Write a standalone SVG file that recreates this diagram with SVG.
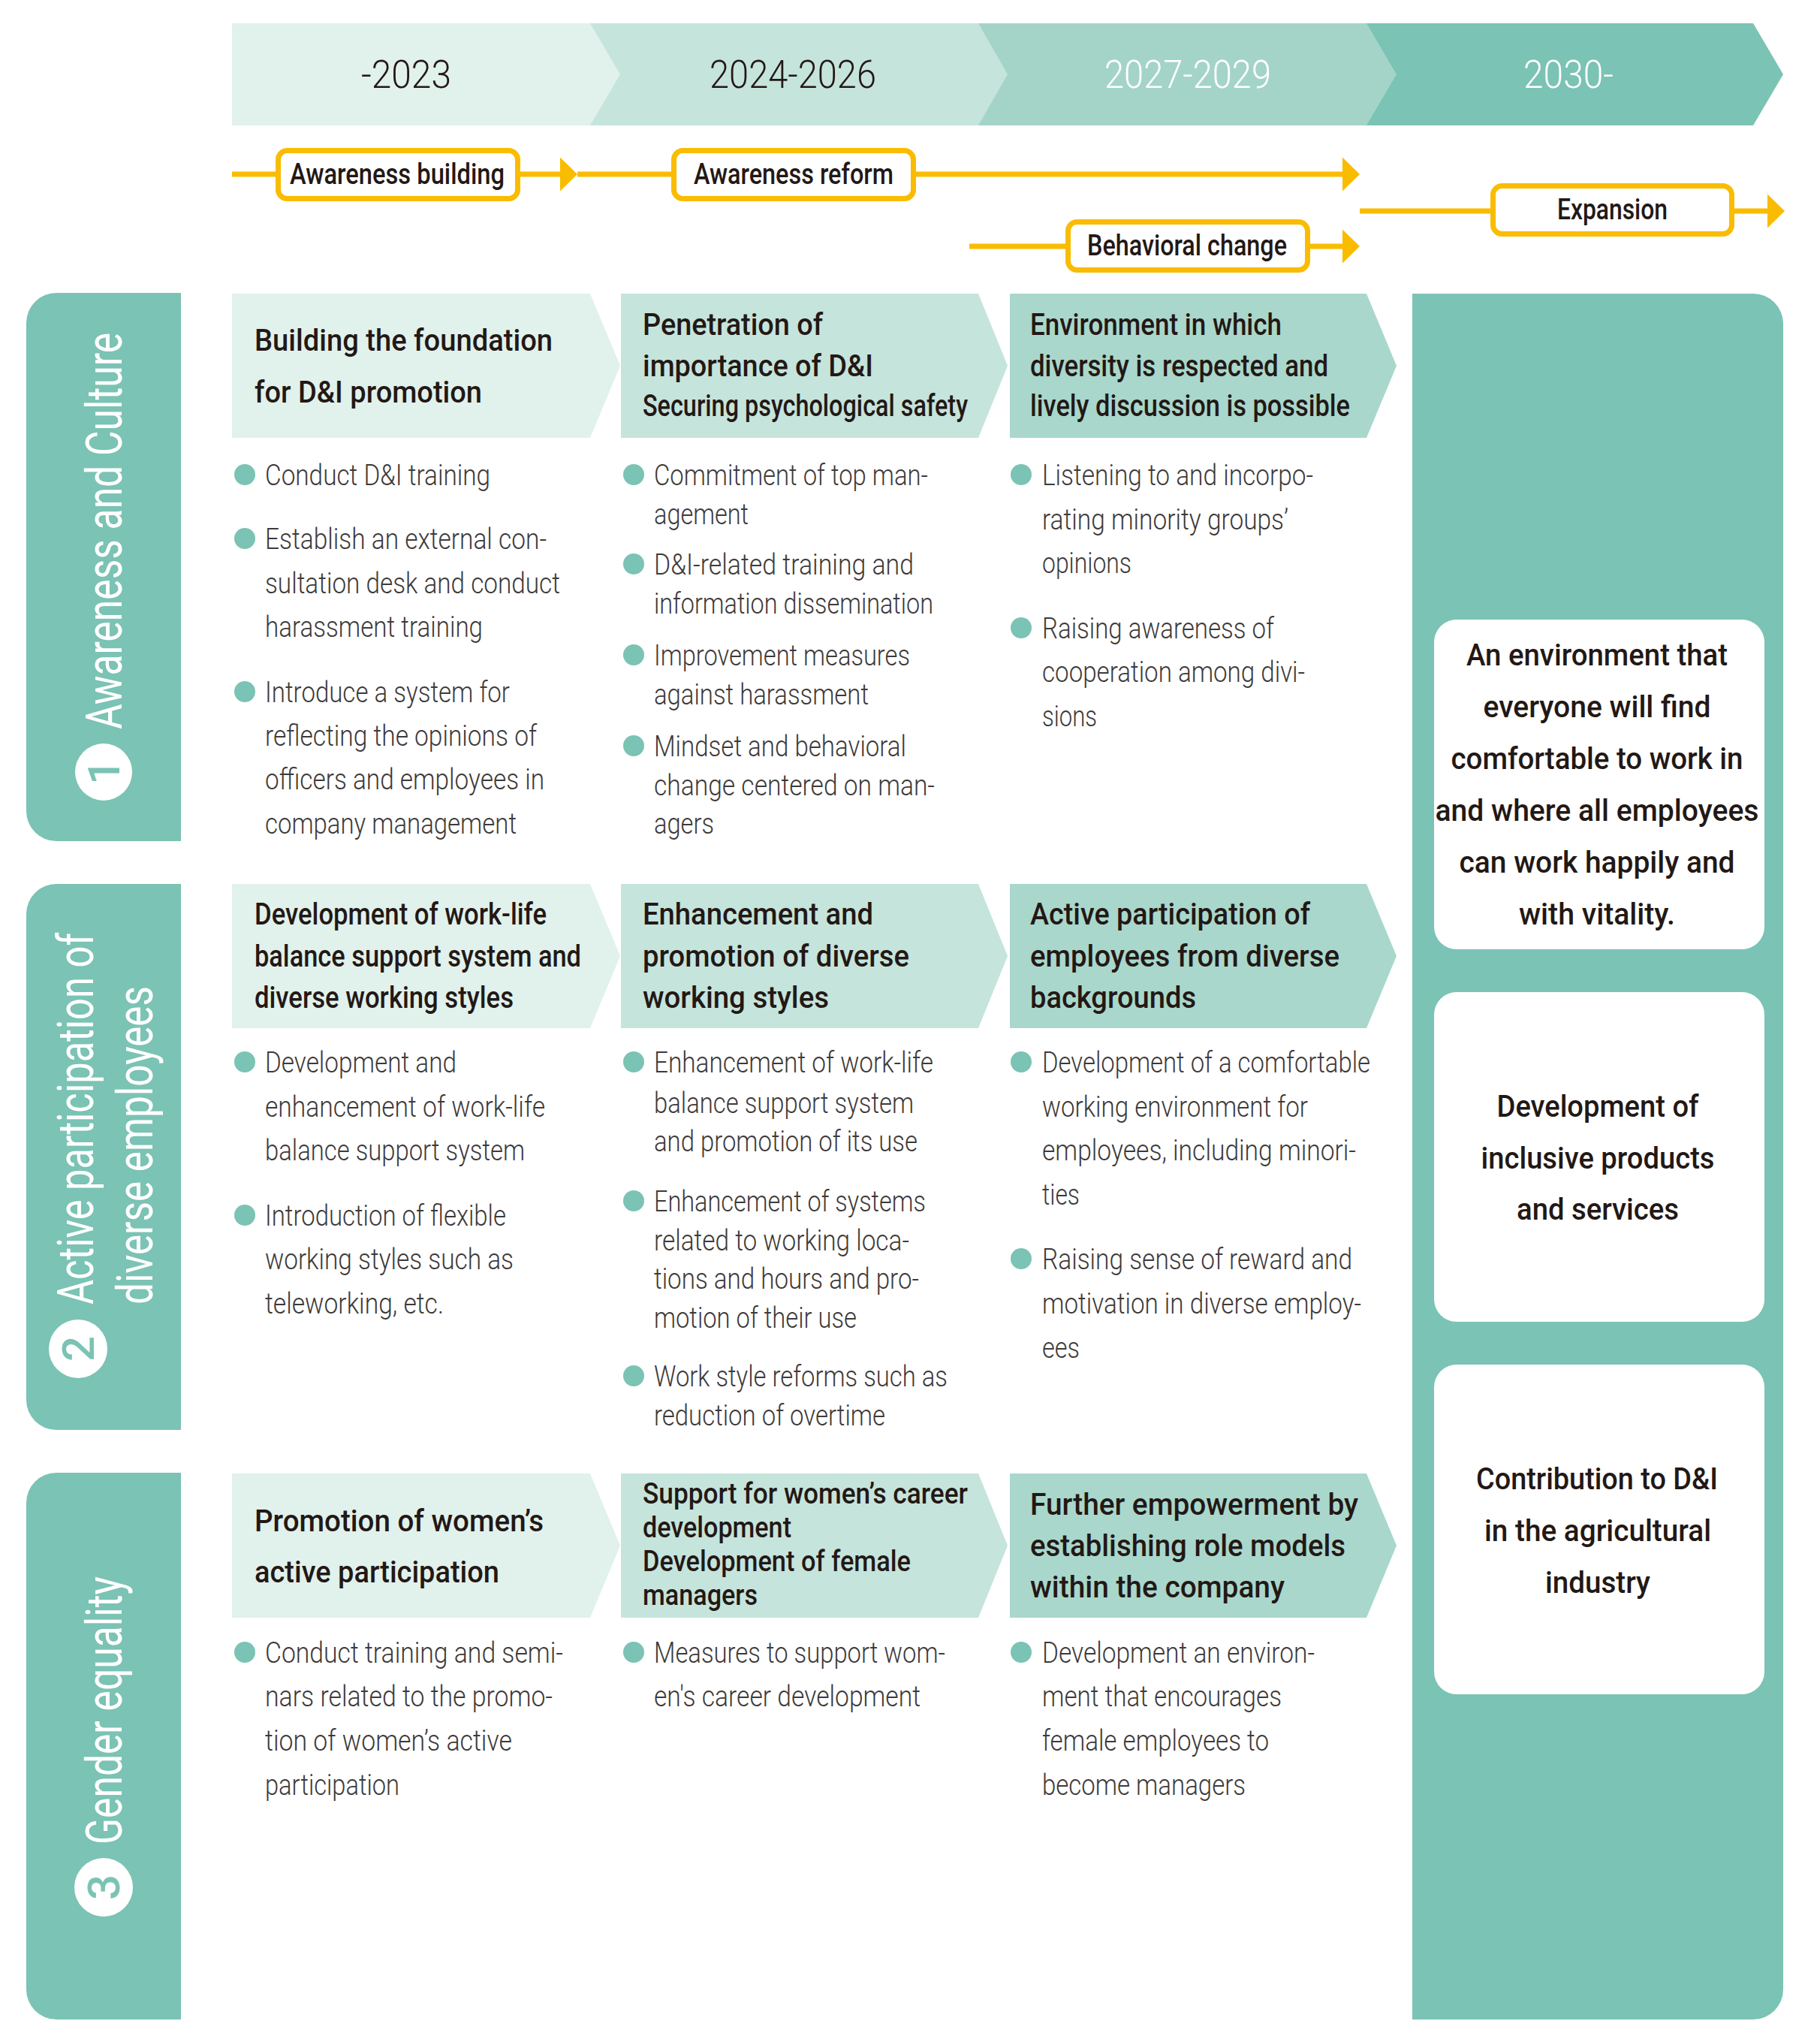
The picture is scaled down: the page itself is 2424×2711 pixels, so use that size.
<svg xmlns="http://www.w3.org/2000/svg" width="2424" height="2711" viewBox="0 0 2424 2711">
<defs>
<style>
text{font-family:Roboto,'Liberation Sans',sans-serif}
.h{font-weight:500;font-size:40px;fill:#231815}
.h2{font-weight:500;font-size:38px;fill:#231815}
.b{font-weight:300;font-size:39px;fill:#3e3a39}
.yr{font-weight:300;font-size:52px}
.lbl{font-weight:500;font-size:38px;fill:#231815}
.side{font-weight:400;font-size:66px;fill:#fff}
.num{font-weight:500;font-size:60px;fill:#7bc3b4}
.goal{font-weight:500;font-size:40px;fill:#231815;text-anchor:middle}
.dot{fill:#7bc3b4}
.c1{fill:#e1f1ec}.c2{fill:#c5e4dc}.c3{fill:#a9d7cc}.c3h{fill:#a4d4c8}.c4{fill:#7bc3b4}
.ybox{fill:#fff;stroke:#f9bc00;stroke-width:7}
.yline{stroke:#f9bc00;stroke-width:7;fill:none}
</style>
<marker id="ah" markerUnits="userSpaceOnUse" viewBox="0 0 23 45" refX="0" refY="22.5" markerWidth="23" markerHeight="45" orient="auto"><path d="M0,0 L23,22.5 L0,45 Z" fill="#f9bc00"/></marker>
</defs>
<rect width="2424" height="2711" fill="#fff"/>

<!-- header band -->
<g id="period-2030">
<path class="c4" d="M1820,31 H2335 L2375,99 L2335,167 H1820 Z"/>
<text class="yr" x="2029" y="117" fill="#fff" textLength="120" lengthAdjust="spacingAndGlyphs">2030-</text>
</g>
<g id="period-2027">
<path class="c3h" d="M1303,31 H1820 L1860,99 L1820,167 H1303 Z"/>
<text class="yr" x="1471" y="117" fill="#fff" textLength="222" lengthAdjust="spacingAndGlyphs">2027-2029</text>
</g>
<g id="period-2024">
<path class="c2" d="M786,31 H1303 L1342,99 L1303,167 H786 Z"/>
<text class="yr" x="945" y="117" fill="#231815" textLength="222" lengthAdjust="spacingAndGlyphs">2024-2026</text>
</g>
<g id="period-2023">
<path class="c1" d="M309,31 H786 L826,99 L786,167 H309 Z"/>
<text class="yr" x="481" y="117" fill="#231815" textLength="120" lengthAdjust="spacingAndGlyphs">-2023</text>
</g>

<!-- connectors -->
<g id="connectors">
<path class="yline" d="M309,232 H746" marker-end="url(#ah)"/>
<path class="yline" d="M769,232 H1788" marker-end="url(#ah)"/>
<path class="yline" d="M1291,328 H1788" marker-end="url(#ah)"/>
<path class="yline" d="M1811,281 H2354" marker-end="url(#ah)"/>
</g>

<g id="awareness-building">
<rect class="ybox" x="370.5" y="200.5" width="319" height="64" rx="12"/>
<text class="lbl" x="386" y="245" textLength="286" lengthAdjust="spacingAndGlyphs">Awareness building</text>
</g>
<g id="awareness-reform">
<rect class="ybox" x="897.5" y="200.5" width="319" height="64" rx="12"/>
<text class="lbl" x="924" y="245" textLength="266" lengthAdjust="spacingAndGlyphs">Awareness reform</text>
</g>
<g id="behavioral-change">
<rect class="ybox" x="1422.5" y="295.5" width="319" height="64" rx="12"/>
<text class="lbl" x="1448" y="340" textLength="266" lengthAdjust="spacingAndGlyphs">Behavioral change</text>
</g>
<g id="expansion">
<rect class="ybox" x="1988.5" y="247.5" width="318" height="64" rx="12"/>
<text class="lbl" x="2074" y="292" textLength="147" lengthAdjust="spacingAndGlyphs">Expansion</text>
</g>

<!-- side bars -->
<g id="cat-awareness">
<path class="c4" d="M75,390 H241 V1120 H75 A40,40 0 0 1 35,1080 V430 A40,40 0 0 1 75,390 Z"/>
<text class="side" transform="translate(162,971) rotate(-90)" textLength="528" lengthAdjust="spacingAndGlyphs">Awareness and Culture</text>
<circle cx="138" cy="1028" r="38" fill="#fff"/>
<text class="num" transform="translate(159,1028) rotate(-90)" text-anchor="middle">1</text>
</g>
<g id="cat-participation">
<path class="c4" d="M75,1177 H241 V1904 H75 A40,40 0 0 1 35,1864 V1217 A40,40 0 0 1 75,1177 Z"/>
<text class="side" transform="translate(124,1737) rotate(-90)" textLength="495" lengthAdjust="spacingAndGlyphs">Active participation of</text>
<text class="side" transform="translate(203,1737) rotate(-90)" textLength="424" lengthAdjust="spacingAndGlyphs">diverse employees</text>
<circle cx="104" cy="1796" r="39" fill="#fff"/>
<text class="num" transform="translate(125,1796) rotate(-90)" text-anchor="middle">2</text>
</g>
<g id="cat-gender">
<path class="c4" d="M75,1961 H241 V2689 H75 A40,40 0 0 1 35,2649 V2001 A40,40 0 0 1 75,1961 Z"/>
<text class="side" transform="translate(162,2456) rotate(-90)" textLength="357" lengthAdjust="spacingAndGlyphs">Gender equality</text>
<circle cx="138" cy="2513" r="39" fill="#fff"/>
<text class="num" transform="translate(159,2513) rotate(-90)" text-anchor="middle">3</text>
</g>

<!-- goal panel -->
<g id="goal-panel">
<path class="c4" d="M1881,391 H2335 A40,40 0 0 1 2375,431 V2649 A40,40 0 0 1 2335,2689 H1881 Z"/>
</g>
<g id="goal-environment">
<rect x="1910" y="825" width="440" height="439" rx="30" fill="#fff"/>
<text class="goal" x="2127" y="886" textLength="348" lengthAdjust="spacingAndGlyphs">An environment that</text>
<text class="goal" x="2127" y="955" textLength="303" lengthAdjust="spacingAndGlyphs">everyone will find</text>
<text class="goal" x="2127" y="1024" textLength="389" lengthAdjust="spacingAndGlyphs">comfortable to work in</text>
<text class="goal" x="2127" y="1093" textLength="431" lengthAdjust="spacingAndGlyphs">and where all employees</text>
<text class="goal" x="2127" y="1162" textLength="367" lengthAdjust="spacingAndGlyphs">can work happily and</text>
<text class="goal" x="2127" y="1231" textLength="208" lengthAdjust="spacingAndGlyphs">with vitality.</text>
</g>
<g id="goal-products">
<rect x="1910" y="1321" width="440" height="439" rx="30" fill="#fff"/>
<text class="goal" x="2128" y="1487" textLength="269" lengthAdjust="spacingAndGlyphs">Development of</text>
<text class="goal" x="2128" y="1556" textLength="311" lengthAdjust="spacingAndGlyphs">inclusive products</text>
<text class="goal" x="2128" y="1624" textLength="216" lengthAdjust="spacingAndGlyphs">and services</text>
</g>
<g id="goal-agri">
<rect x="1910" y="1817" width="440" height="439" rx="30" fill="#fff"/>
<text class="goal" x="2127" y="1983" textLength="322" lengthAdjust="spacingAndGlyphs">Contribution to D&amp;I</text>
<text class="goal" x="2128" y="2052" textLength="302" lengthAdjust="spacingAndGlyphs">in the agricultural</text>
<text class="goal" x="2128" y="2121" textLength="140" lengthAdjust="spacingAndGlyphs">industry</text>
</g>

<!-- Row 1 -->
<g id="r1c1">
<path class="c1" d="M309,391 H786 L826,487 L786,583 H309 Z"/>
<text class="h" x="339" y="467" textLength="397" lengthAdjust="spacingAndGlyphs">Building the foundation</text>
<text class="h" x="339" y="536" textLength="303" lengthAdjust="spacingAndGlyphs">for D&amp;I promotion</text>
<circle class="dot" cx="326" cy="632" r="14"/>
<text class="b" x="353" y="646" textLength="300" lengthAdjust="spacingAndGlyphs">Conduct D&amp;I training</text>
<circle class="dot" cx="326" cy="717" r="14"/>
<text class="b" x="353" y="731" textLength="375" lengthAdjust="spacingAndGlyphs">Establish an external con-</text>
<text class="b" x="353" y="790" textLength="393" lengthAdjust="spacingAndGlyphs">sultation desk and conduct</text>
<text class="b" x="353" y="848" textLength="290" lengthAdjust="spacingAndGlyphs">harassment training</text>
<circle class="dot" cx="326" cy="921" r="14"/>
<text class="b" x="353" y="935" textLength="326" lengthAdjust="spacingAndGlyphs">Introduce a system for</text>
<text class="b" x="353" y="993" textLength="362" lengthAdjust="spacingAndGlyphs">reflecting the opinions of</text>
<text class="b" x="353" y="1051" textLength="372" lengthAdjust="spacingAndGlyphs">officers and employees in</text>
<text class="b" x="353" y="1110" textLength="335" lengthAdjust="spacingAndGlyphs">company management</text>
</g>
<g id="r1c2">
<path class="c2" d="M827,391 H1303 L1342,487 L1303,583 H827 Z"/>
<text class="h" x="856" y="446" textLength="240" lengthAdjust="spacingAndGlyphs">Penetration of</text>
<text class="h" x="856" y="501" textLength="307" lengthAdjust="spacingAndGlyphs">importance of D&amp;I</text>
<text class="h" x="856" y="554" textLength="433" lengthAdjust="spacingAndGlyphs">Securing psychological safety</text>
<circle class="dot" cx="844" cy="632" r="14"/>
<text class="b" x="871" y="646" textLength="365" lengthAdjust="spacingAndGlyphs">Commitment of top man-</text>
<text class="b" x="871" y="698" textLength="126" lengthAdjust="spacingAndGlyphs">agement</text>
<circle class="dot" cx="844" cy="751" r="14"/>
<text class="b" x="871" y="765" textLength="346" lengthAdjust="spacingAndGlyphs">D&amp;I-related training and</text>
<text class="b" x="871" y="817" textLength="372" lengthAdjust="spacingAndGlyphs">information dissemination</text>
<circle class="dot" cx="844" cy="872" r="14"/>
<text class="b" x="871" y="886" textLength="341" lengthAdjust="spacingAndGlyphs">Improvement measures</text>
<text class="b" x="871" y="938" textLength="286" lengthAdjust="spacingAndGlyphs">against harassment</text>
<circle class="dot" cx="844" cy="993" r="14"/>
<text class="b" x="871" y="1007" textLength="336" lengthAdjust="spacingAndGlyphs">Mindset and behavioral</text>
<text class="b" x="871" y="1059" textLength="374" lengthAdjust="spacingAndGlyphs">change centered on man-</text>
<text class="b" x="871" y="1110" textLength="80" lengthAdjust="spacingAndGlyphs">agers</text>
</g>
<g id="r1c3">
<path class="c3" d="M1345,391 H1820 L1860,487 L1820,583 H1345 Z"/>
<text class="h" x="1372" y="446" textLength="335" lengthAdjust="spacingAndGlyphs">Environment in which</text>
<text class="h" x="1372" y="501" textLength="397" lengthAdjust="spacingAndGlyphs">diversity is respected and</text>
<text class="h" x="1372" y="554" textLength="426" lengthAdjust="spacingAndGlyphs">lively discussion is possible</text>
<circle class="dot" cx="1360" cy="632" r="14"/>
<text class="b" x="1388" y="646" textLength="361" lengthAdjust="spacingAndGlyphs">Listening to and incorpo-</text>
<text class="b" x="1388" y="705" textLength="328" lengthAdjust="spacingAndGlyphs">rating minority groups’</text>
<text class="b" x="1388" y="763" textLength="119" lengthAdjust="spacingAndGlyphs">opinions</text>
<circle class="dot" cx="1360" cy="836" r="14"/>
<text class="b" x="1388" y="850" textLength="309" lengthAdjust="spacingAndGlyphs">Raising awareness of</text>
<text class="b" x="1388" y="908" textLength="350" lengthAdjust="spacingAndGlyphs">cooperation among divi-</text>
<text class="b" x="1388" y="967" textLength="73" lengthAdjust="spacingAndGlyphs">sions</text>
</g>

<!-- Row 2 -->
<g id="r2c1">
<path class="c1" d="M309,1177 H786 L826,1273 L786,1369 H309 Z"/>
<text class="h" x="339" y="1231" textLength="389" lengthAdjust="spacingAndGlyphs">Development of work-life</text>
<text class="h" x="339" y="1287" textLength="435" lengthAdjust="spacingAndGlyphs">balance support system and</text>
<text class="h" x="339" y="1342" textLength="345" lengthAdjust="spacingAndGlyphs">diverse working styles</text>
<circle class="dot" cx="326" cy="1414" r="14"/>
<text class="b" x="353" y="1428" textLength="255" lengthAdjust="spacingAndGlyphs">Development and</text>
<text class="b" x="353" y="1487" textLength="373" lengthAdjust="spacingAndGlyphs">enhancement of work-life</text>
<text class="b" x="353" y="1545" textLength="346" lengthAdjust="spacingAndGlyphs">balance support system</text>
<circle class="dot" cx="326" cy="1618" r="14"/>
<text class="b" x="353" y="1632" textLength="321" lengthAdjust="spacingAndGlyphs">Introduction of flexible</text>
<text class="b" x="353" y="1690" textLength="331" lengthAdjust="spacingAndGlyphs">working styles such as</text>
<text class="b" x="353" y="1749" textLength="238" lengthAdjust="spacingAndGlyphs">teleworking, etc.</text>
</g>
<g id="r2c2">
<path class="c2" d="M827,1177 H1303 L1342,1273 L1303,1369 H827 Z"/>
<text class="h" x="856" y="1231" textLength="307" lengthAdjust="spacingAndGlyphs">Enhancement and</text>
<text class="h" x="856" y="1287" textLength="355" lengthAdjust="spacingAndGlyphs">promotion of diverse</text>
<text class="h" x="856" y="1342" textLength="248" lengthAdjust="spacingAndGlyphs">working styles</text>
<circle class="dot" cx="844" cy="1414" r="14"/>
<text class="b" x="871" y="1428" textLength="372" lengthAdjust="spacingAndGlyphs">Enhancement of work-life</text>
<text class="b" x="871" y="1482" textLength="346" lengthAdjust="spacingAndGlyphs">balance support system</text>
<text class="b" x="871" y="1533" textLength="351" lengthAdjust="spacingAndGlyphs">and promotion of its use</text>
<circle class="dot" cx="844" cy="1599" r="14"/>
<text class="b" x="871" y="1613" textLength="362" lengthAdjust="spacingAndGlyphs">Enhancement of systems</text>
<text class="b" x="871" y="1665" textLength="340" lengthAdjust="spacingAndGlyphs">related to working loca-</text>
<text class="b" x="871" y="1716" textLength="353" lengthAdjust="spacingAndGlyphs">tions and hours and pro-</text>
<text class="b" x="871" y="1768" textLength="270" lengthAdjust="spacingAndGlyphs">motion of their use</text>
<circle class="dot" cx="844" cy="1832" r="14"/>
<text class="b" x="871" y="1846" textLength="391" lengthAdjust="spacingAndGlyphs">Work style reforms such as</text>
<text class="b" x="871" y="1898" textLength="308" lengthAdjust="spacingAndGlyphs">reduction of overtime</text>
</g>
<g id="r2c3">
<path class="c3" d="M1345,1177 H1820 L1860,1273 L1820,1369 H1345 Z"/>
<text class="h" x="1372" y="1231" textLength="373" lengthAdjust="spacingAndGlyphs">Active participation of</text>
<text class="h" x="1372" y="1287" textLength="412" lengthAdjust="spacingAndGlyphs">employees from diverse</text>
<text class="h" x="1372" y="1342" textLength="221" lengthAdjust="spacingAndGlyphs">backgrounds</text>
<circle class="dot" cx="1360" cy="1414" r="14"/>
<text class="b" x="1388" y="1428" textLength="437" lengthAdjust="spacingAndGlyphs">Development of a comfortable</text>
<text class="b" x="1388" y="1487" textLength="354" lengthAdjust="spacingAndGlyphs">working environment for</text>
<text class="b" x="1388" y="1545" textLength="418" lengthAdjust="spacingAndGlyphs">employees, including minori-</text>
<text class="b" x="1388" y="1604" textLength="50" lengthAdjust="spacingAndGlyphs">ties</text>
<circle class="dot" cx="1360" cy="1676" r="14"/>
<text class="b" x="1388" y="1690" textLength="413" lengthAdjust="spacingAndGlyphs">Raising sense of reward and</text>
<text class="b" x="1388" y="1749" textLength="425" lengthAdjust="spacingAndGlyphs">motivation in diverse employ-</text>
<text class="b" x="1388" y="1808" textLength="50" lengthAdjust="spacingAndGlyphs">ees</text>
</g>

<!-- Row 3 -->
<g id="r3c1">
<path class="c1" d="M309,1962 H786 L826,2058 L786,2154 H309 Z"/>
<text class="h" x="339" y="2039" textLength="385" lengthAdjust="spacingAndGlyphs">Promotion of women’s</text>
<text class="h" x="339" y="2107" textLength="326" lengthAdjust="spacingAndGlyphs">active participation</text>
<circle class="dot" cx="326" cy="2200" r="14"/>
<text class="b" x="353" y="2214" textLength="397" lengthAdjust="spacingAndGlyphs">Conduct training and semi-</text>
<text class="b" x="353" y="2272" textLength="383" lengthAdjust="spacingAndGlyphs">nars related to the promo-</text>
<text class="b" x="353" y="2331" textLength="329" lengthAdjust="spacingAndGlyphs">tion of women’s active</text>
<text class="b" x="353" y="2390" textLength="179" lengthAdjust="spacingAndGlyphs">participation</text>
</g>
<g id="r3c2">
<path class="c2" d="M827,1962 H1303 L1342,2058 L1303,2154 H827 Z"/>
<text class="h2" x="856" y="2002" textLength="433" lengthAdjust="spacingAndGlyphs">Support for women’s career</text>
<text class="h2" x="856" y="2047" textLength="198" lengthAdjust="spacingAndGlyphs">development</text>
<text class="h2" x="856" y="2092" textLength="357" lengthAdjust="spacingAndGlyphs">Development of female</text>
<text class="h2" x="856" y="2137" textLength="153" lengthAdjust="spacingAndGlyphs">managers</text>
<circle class="dot" cx="844" cy="2200" r="14"/>
<text class="b" x="871" y="2214" textLength="388" lengthAdjust="spacingAndGlyphs">Measures to support wom-</text>
<text class="b" x="871" y="2272" textLength="355" lengthAdjust="spacingAndGlyphs">en's career development</text>
</g>
<g id="r3c3">
<path class="c3" d="M1345,1962 H1820 L1860,2058 L1820,2154 H1345 Z"/>
<text class="h" x="1372" y="2017" textLength="437" lengthAdjust="spacingAndGlyphs">Further empowerment by</text>
<text class="h" x="1372" y="2072" textLength="420" lengthAdjust="spacingAndGlyphs">establishing role models</text>
<text class="h" x="1372" y="2127" textLength="339" lengthAdjust="spacingAndGlyphs">within the company</text>
<circle class="dot" cx="1360" cy="2200" r="14"/>
<text class="b" x="1388" y="2214" textLength="363" lengthAdjust="spacingAndGlyphs">Development an environ-</text>
<text class="b" x="1388" y="2272" textLength="319" lengthAdjust="spacingAndGlyphs">ment that encourages</text>
<text class="b" x="1388" y="2331" textLength="302" lengthAdjust="spacingAndGlyphs">female employees to</text>
<text class="b" x="1388" y="2390" textLength="271" lengthAdjust="spacingAndGlyphs">become managers</text>
</g>
</svg>
